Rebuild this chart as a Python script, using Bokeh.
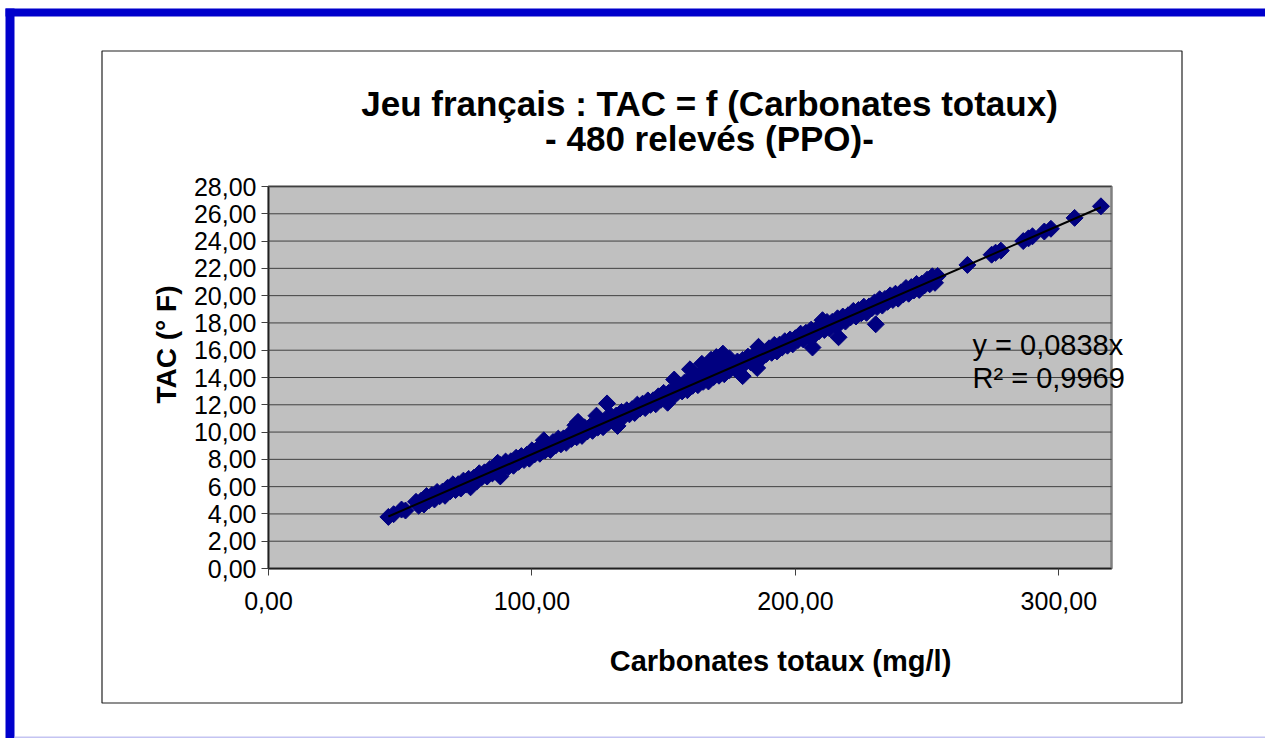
import math
from bokeh.plotting import figure
from bokeh.models import Range1d, Label, BoxAnnotation, FixedTicker
from bokeh.embed import file_html
from bokeh.resources import INLINE

# ---------------- data ----------------
carb_upper = [56, 58, 60, 62, 64, 66, 68, 70, 72, 74, 76, 78, 80, 82, 84, 86, 88, 90, 92, 94,
              96, 98, 100, 102, 104, 106, 108, 110, 112, 114, 116, 118, 120, 122, 124, 126, 128, 130, 132, 134,
              136, 138, 140, 142, 144, 146, 148, 150, 152, 154, 156, 158, 160, 162, 164, 166, 168, 170, 172, 174,
              176, 178, 180, 182, 184, 186, 188, 190, 192, 194, 196, 198, 200, 202, 204, 206, 208, 210, 212, 214,
              216, 218, 220, 222, 224, 226, 228, 230, 232, 234, 236, 238, 240, 242, 244, 246, 248, 250, 252, 254]
tac_upper = [4.89, 4.98, 5.31, 5.38, 5.61, 5.63, 5.92, 6.17, 6.18, 6.44, 6.57, 6.66, 6.98, 7.05, 7.29, 7.31, 7.59, 7.84, 7.86, 8.12,
             8.24, 8.33, 8.66, 8.73, 8.97, 8.98, 9.27, 9.52, 9.54, 9.79, 9.92, 10.01, 10.34, 10.40, 10.64, 10.66, 10.95, 11.19, 11.21, 11.47,
             11.60, 11.68, 12.01, 12.08, 12.32, 12.33, 12.62, 12.87, 12.89, 13.15, 13.42, 13.64, 13.86, 13.88, 14.24, 14.31, 14.63, 14.70, 14.76, 14.98,
             15.05, 15.17, 15.28, 15.53, 15.60, 15.84, 15.85, 16.14, 16.39, 16.41, 16.66, 16.79, 16.88, 17.21, 17.28, 17.51, 17.53, 17.82, 18.07, 18.08,
             18.34, 18.47, 18.56, 18.88, 18.95, 19.19, 19.21, 19.49, 19.74, 19.76, 20.02, 20.14, 20.23, 20.56, 20.63, 20.86, 20.88, 21.17, 21.42, 21.44]

carb_lower = [57, 59, 61, 63, 65, 67, 69, 71, 73, 75, 77, 79, 81, 83, 85, 87, 89, 91, 93, 95,
              97, 99, 101, 103, 105, 107, 109, 111, 113, 115, 117, 119, 121, 123, 125, 127, 129, 131, 133, 135,
              137, 139, 141, 143, 145, 147, 149, 151, 153, 155, 157, 159, 161, 163, 165, 167, 169, 171, 173, 175,
              177, 179, 181, 183, 185, 187, 189, 191, 193, 195, 197, 199, 201, 203, 205, 207, 209, 211, 213, 215,
              217, 219, 221, 223, 225, 227, 229, 231, 233, 235, 237, 239, 241, 243, 245, 247, 249, 251, 253]
tac_lower = [4.60, 4.69, 5.01, 5.06, 5.30, 5.33, 5.66, 5.75, 5.86, 6.15, 6.27, 6.37, 6.69, 6.74, 6.97, 7.01, 7.34, 7.43, 7.53, 7.82,
             7.95, 8.05, 8.36, 8.41, 8.65, 8.69, 9.01, 9.10, 9.21, 9.50, 9.62, 9.72, 10.04, 10.09, 10.33, 10.36, 10.69, 10.78, 10.89, 11.17,
             11.30, 11.40, 11.72, 11.76, 12.00, 12.04, 12.37, 12.45, 12.56, 12.85, 12.98, 13.07, 13.39, 13.44, 13.68, 13.71, 14.04, 14.13, 14.24, 14.53,
             14.65, 14.75, 15.07, 15.12, 15.35, 15.39, 15.72, 15.81, 15.91, 16.20, 16.33, 16.43, 16.74, 16.79, 17.03, 17.07, 17.39, 17.48, 17.59, 17.88,
             18.00, 18.10, 18.42, 18.47, 18.71, 18.74, 19.07, 19.16, 19.27, 19.55, 19.68, 19.78, 20.10, 20.14, 20.38, 20.42, 20.75, 20.83, 20.94]

carb_other = [45.5, 47.5, 50.5, 52.0, 76.7, 88.0, 87.0, 104.5, 116.5, 117.5, 124.5, 128.5, 132.5, 151.5,
              154.0, 160.0, 164.5, 168.0, 170.0, 172.5, 175.0, 180.0, 185.5, 186.0, 206.5, 210.3, 216.4, 230.5,
              265.3, 274.5, 276.0, 278.0, 286.5, 288.5, 290.0, 294.5, 297.0, 306.0, 316.0]
tac_other = [3.78, 3.98, 4.32, 4.25, 5.95, 6.75, 7.75, 9.40, 10.50, 10.75, 11.20, 12.10, 10.45, 12.15,
             13.85, 14.60, 15.00, 15.30, 15.50, 15.75, 15.40, 14.10, 14.70, 16.25, 16.20, 18.20, 16.95, 17.90,
             22.25, 23.00, 23.15, 23.30, 24.00, 24.20, 24.35, 24.70, 24.90, 25.70, 26.55]

trend_slope = 0.0838
trend_x = [45.5, 316.0]

x_min, x_max = 0, 320
y_min, y_max = 0, 28
x_ticks = [0, 100, 200, 300]
x_tick_labels = ["0,00", "100,00", "200,00", "300,00"]
y_ticks = [0, 2, 4, 6, 8, 10, 12, 14, 16, 18, 20, 22, 24, 26, 28]
y_tick_labels = ["0,00", "2,00", "4,00", "6,00", "8,00", "10,00", "12,00", "14,00", "16,00",
                 "18,00", "20,00", "22,00", "24,00", "26,00", "28,00"]

title_line1 = "Jeu français : TAC = f (Carbonates totaux)"
title_line2 = "- 480 relevés (PPO)-"
x_title = "Carbonates totaux (mg/l)"
y_title = "TAC (° F)"
eq_line1 = "y = 0,0838x"
eq_line2 = "R² = 0,9969"

# ---------------- layout (pixel positions of the plot area on the page) ----------------
W, H = 1265, 738
PL, PR, PT, PB = 268, 1111, 186, 568
FONT = "Liberation Sans"

sx = (PR - PL) / (x_max - x_min)
sy = (PB - PT) / (y_max - y_min)

def cx(page_x):
    return x_min + (page_x - PL) / sx

def cy(page_y):
    return y_min + (PB - page_y) / sy

p = figure(width=W, height=H, output_backend="svg", toolbar_location=None, title=None,
           x_range=Range1d(cx(0), cx(W)), y_range=Range1d(cy(H), cy(0)),
           min_border=0)
p.background_fill_color = "white"
p.border_fill_color = "white"
p.outline_line_color = None
p.xgrid.visible = False
p.ygrid.visible = False

# page border
p.add_layout(BoxAnnotation(left=cx(5), right=cx(W + 5), top=cy(8), bottom=cy(16),
                           fill_color="#0000CC", fill_alpha=1, line_alpha=0, level="image"))
p.add_layout(BoxAnnotation(left=cx(5), right=cx(14), top=cy(8), bottom=cy(H + 5),
                           fill_color="#0000CC", fill_alpha=1, line_alpha=0, level="image"))
p.add_layout(BoxAnnotation(left=cx(14), right=cx(W + 5), top=cy(736), bottom=cy(738),
                           fill_color="#C4C4F2", fill_alpha=1, line_alpha=0, level="image"))
# chart area
p.add_layout(BoxAnnotation(left=cx(101.5), right=cx(1181.5), top=cy(50.5), bottom=cy(702.5),
                           fill_alpha=0, line_color="#202020", line_alpha=1, line_width=1.2,
                           level="image"))
# plot area
p.add_layout(BoxAnnotation(left=x_min, right=x_max, bottom=y_min, top=y_max,
                           fill_color="#C0C0C0", fill_alpha=1, line_color="#808080",
                           line_alpha=1, line_width=2.5, level="image"))
# horizontal gridlines
p.segment(x0=[x_min] * len(y_ticks[1:]), x1=[x_max] * len(y_ticks[1:]),
          y0=y_ticks[1:], y1=y_ticks[1:], line_color="#404040", line_width=1, level="underlay")

for ax, ticks, labels, bnds in ((p.xaxis[0], x_ticks, x_tick_labels, (x_min, x_max)),
                                (p.yaxis[0], y_ticks, y_tick_labels, (y_min, y_max))):
    ax.ticker = FixedTicker(ticks=ticks)
    ax.major_label_overrides = {t: l for t, l in zip(ticks, labels)}
    ax.fixed_location = 0
    ax.bounds = bnds
    ax.minor_tick_line_color = None
    ax.major_tick_in = 0
    ax.major_tick_out = 7
    ax.major_tick_line_color = "#404040"
    ax.axis_line_color = "#202020"
    ax.axis_line_width = 1.5
    ax.major_label_text_font = FONT
    ax.major_label_text_color = "black"
p.yaxis.major_label_text_font_size = "25px"
p.xaxis.major_label_text_font_size = "25px"
p.yaxis.major_label_standoff = 5
p.xaxis.major_label_standoff = 16

all_x = carb_upper + carb_lower + carb_other
all_y = tac_upper + tac_lower + tac_other
p.scatter(all_x, all_y, marker="square", size=12, angle=math.pi / 4,
          fill_color="#000080", line_color="#000080", line_width=1)
p.line(trend_x, [trend_slope * v for v in trend_x], line_color="black", line_width=2)

def add_text(txt, px, py, size, bold=False, align="left", angle=0.0):
    p.add_layout(Label(x=cx(px), y=cy(py), text=txt, text_font=FONT, text_font_size=size,
                       text_font_style="bold" if bold else "normal", text_color="black",
                       text_align=align, text_baseline="middle", angle=angle))

add_text(title_line1, 709, 103, "35px", bold=True, align="center")
add_text(title_line2, 709, 138, "35px", bold=True, align="center")
add_text(x_title, 780, 660, "29px", bold=True, align="center")
add_text(y_title, 166, 344, "28px", bold=True, align="center", angle=math.pi / 2)
add_text(eq_line1, 972, 344, "29px")
add_text(eq_line2, 972, 377, "29px")

open("out.html", "w").write(file_html(p, INLINE))
